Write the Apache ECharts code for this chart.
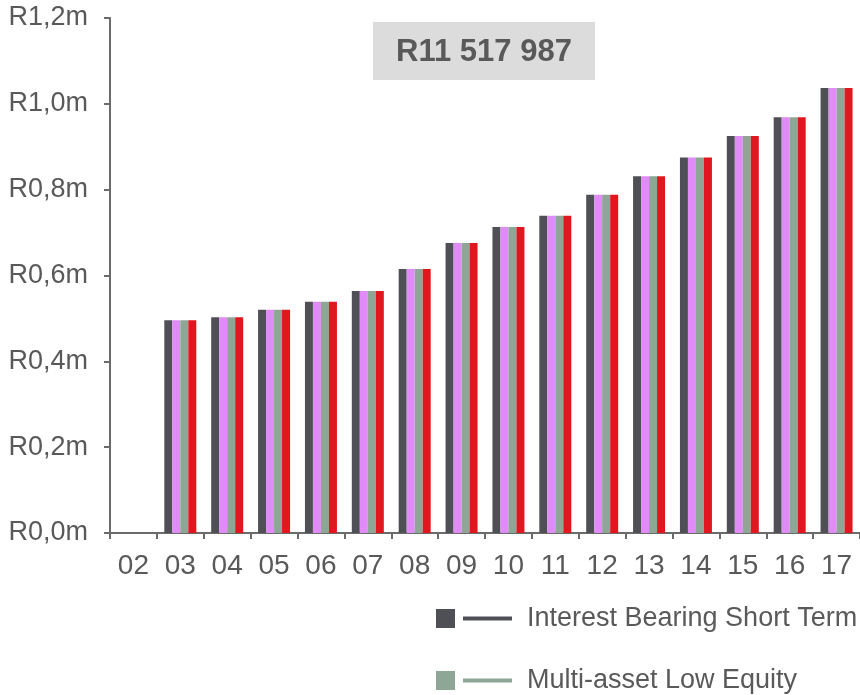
<!DOCTYPE html>
<html>
<head>
<meta charset="utf-8">
<script src="https://cdn.jsdelivr.net/npm/echarts@6/dist/echarts.min.js"></script>
<style>
  html, body { margin: 0; padding: 0; background: #ffffff; }
  #chart { width: 860px; height: 695px; }
</style>
</head>
<body>
<div id="chart"></div>
<script>
// Years on the category axis
const years = ['02', '03', '04', '05', '06', '07', '08', '09', '10', '11', '12', '13', '14', '15', '16', '17'];

// Fund values in rand, one array per fund
const interestBearingShortTerm = [null, 496000, 503000, 520000, 539000, 564000, 615000, 676000, 713000, 739000, 788000, 831000, 875000, 925000, 969000, 1037000];
const fundTwo                  = [null, 496000, 503000, 520000, 539000, 564000, 615000, 676000, 713000, 739000, 788000, 831000, 875000, 925000, 969000, 1037000];
const multiAssetLowEquity      = [null, 496000, 503000, 520000, 539000, 564000, 615000, 676000, 713000, 739000, 788000, 831000, 875000, 925000, 969000, 1037000];
const fundFour                 = [null, 496000, 503000, 520000, 539000, 564000, 615000, 676000, 713000, 739000, 788000, 831000, 875000, 925000, 969000, 1037000];

// Y-axis ticks in rand
const yTicks = [0, 200000, 400000, 600000, 800000, 1000000, 1200000];

// Headline total
const totalLabel = 'R11 517 987';

const names = ['Interest Bearing Short Term', 'Fund 2', 'Multi-asset Low Equity', 'Fund 4'];
const colors = ['#4f5055', '#e08bf7', '#8ea696', '#e2161e'];
const seriesData = [interestBearingShortTerm, fundTwo, multiAssetLowEquity, fundFour];

const textColor = '#595959';
const axisColor = '#6b6b6b';
const fontFamily = '"Liberation Sans", Arial, sans-serif';

// Legend icon: filled square followed by a short bar
const legendIcon = 'path://M0,0H19V19H0Z M27,7.5H76V11.5H27Z';

const chart = echarts.init(document.getElementById('chart'), null, { renderer: 'canvas' });

chart.setOption({
  animation: false,
  textStyle: { fontFamily: fontFamily },
  grid: { left: 110, right: -7, top: 18, bottom: 162, containLabel: false },
  xAxis: {
    type: 'category',
    data: years,
    boundaryGap: true,
    axisLine: { lineStyle: { color: axisColor, width: 2 } },
    axisTick: { show: true, length: 6, lineStyle: { color: axisColor, width: 2 } },
    axisLabel: { color: textColor, fontSize: 28, margin: 19, fontFamily: fontFamily }
  },
  yAxis: {
    type: 'value',
    min: yTicks[0],
    max: yTicks[yTicks.length - 1],
    interval: yTicks[1] - yTicks[0],
    splitLine: { show: false },
    axisLine: { show: true, lineStyle: { color: axisColor, width: 2 } },
    axisTick: { show: true, length: 6, lineStyle: { color: axisColor, width: 2 } },
    axisLabel: {
      color: textColor,
      fontSize: 27,
      margin: 22,
      fontFamily: fontFamily,
      formatter: function (v) {
        return 'R' + (v / 1e6).toFixed(1).replace('.', ',') + 'm';
      }
    }
  },
  legend: {
    orient: 'vertical',
    left: 436,
    top: 605,
    padding: 0,
    itemWidth: 76,
    itemHeight: 19,
    itemGap: 35,
    icon: legendIcon,
    data: [names[0], names[2]],
    textStyle: { color: textColor, fontSize: 27, fontFamily: fontFamily, lineHeight: 26, padding: [0, 0, 0, 10] }
  },
  graphic: [
    {
      type: 'group',
      left: 373,
      top: 22,
      children: [
        { type: 'rect', shape: { x: 0, y: 0, width: 222, height: 58 }, style: { fill: '#dcdcdc' } },
        {
          type: 'text',
          x: 111,
          y: 30,
          style: {
            text: totalLabel,
            fill: textColor,
            font: 'bold 31px ' + fontFamily,
            textAlign: 'center',
            textVerticalAlign: 'middle'
          }
        }
      ]
    }
  ],
  series: seriesData.map(function (data, i) {
    return {
      name: names[i],
      type: 'bar',
      data: data,
      barWidth: 8,
      barGap: '0%',
      itemStyle: { color: colors[i] }
    };
  })
});
</script>
</body>
</html>
